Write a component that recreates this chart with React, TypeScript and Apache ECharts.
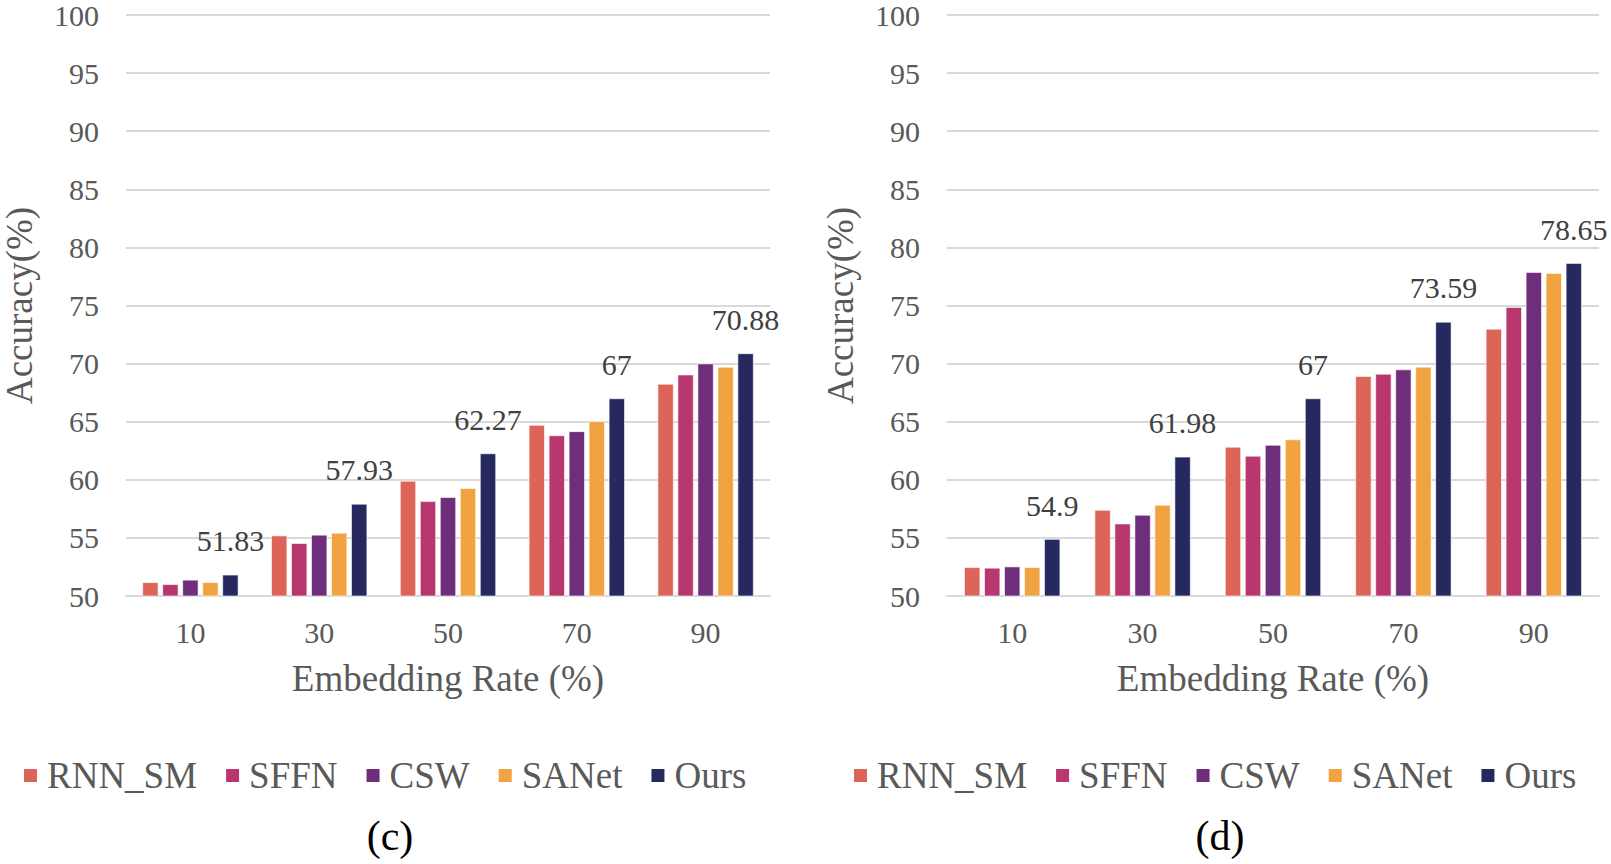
import React, { useEffect, useRef } from "react";
import * as echarts from "echarts";

const categories = ["10", "30", "50", "70", "90"];
const seriesNames = ["RNN_SM", "SFFN", "CSW", "SANet", "Ours"];
const colors = ["#DC6458", "#B8376E", "#6E2E7B", "#F0A340", "#252960"];

// panel (c)
const rnnC = [51.18, 55.2, 59.91, 64.71, 68.25];
const sffnC = [51.01, 54.54, 58.15, 63.82, 69.05];
const cswC = [51.39, 55.26, 58.5, 64.17, 70.0];
const sanetC = [51.18, 55.43, 59.28, 65.03, 69.71];
const oursC = [51.83, 57.93, 62.27, 67, 70.88];

// panel (d)
const rnnD = [52.47, 57.41, 62.83, 68.92, 72.99];
const sffnD = [52.42, 56.23, 62.06, 69.12, 74.86];
const cswD = [52.53, 56.98, 63.0, 69.49, 77.87];
const sanetD = [52.47, 57.84, 63.47, 69.72, 77.78];
const oursD = [54.9, 61.98, 67, 73.59, 78.65];

const FONT = "'Liberation Serif', 'Times New Roman', serif";
const GREY = "#595959";

export default function App() {
  const ref = useRef<HTMLDivElement>(null);
  useEffect(() => {
    if (!ref.current) return;
    const chart = echarts.init(ref.current, null, { renderer: "svg" });

    const panels = [
      { data: [rnnC, sffnC, cswC, sanetC, oursC], left: 118 },
      { data: [rnnD, sffnD, cswD, sanetD, oursD], left: 947 },
    ];

    const grids = panels.map((p) => ({ left: p.left, top: 15, width: 652, height: 581 }));
    const xAxes = panels.map((p, i) => ({
      type: "category",
      gridIndex: i,
      data: categories,
      name: "Embedding Rate (%)",
      nameLocation: "middle",
      nameGap: 64,
      nameTextStyle: { fontFamily: FONT, fontSize: 37, color: GREY },
      axisLine: { show: true, lineStyle: { color: "#d9d9d9", width: 2 } },
      axisTick: { show: false },
      axisLabel: { fontFamily: FONT, fontSize: 30, color: GREY, margin: 21 },
    }));
    const yAxes = panels.map((p, i) => ({
      type: "value",
      gridIndex: i,
      min: 50,
      max: 100,
      interval: 5,
      name: "Accuracy(%)",
      nameLocation: "middle",
      nameGap: 88,
      nameTextStyle: { fontFamily: FONT, fontSize: 37, color: GREY },
      axisLine: { show: false },
      axisTick: { show: false },
      axisLabel: { fontFamily: FONT, fontSize: 30, color: GREY, margin: 27 },
      splitLine: { show: true, lineStyle: { color: "#d9d9d9", width: 2 } },
    }));

    const series: any[] = [];
    panels.forEach((p, pi) => {
      p.data.forEach((arr, si) => {
        series.push({
          type: "bar",
          name: seriesNames[si],
          xAxisIndex: pi,
          yAxisIndex: pi,
          data: arr,
          barWidth: 16,
          barGap: "25%",
          itemStyle: { color: colors[si], borderColor: "#ffffff", borderWidth: 0.6 },
          label:
            si === 4
              ? {
                  show: true,
                  position: "top",
                  distance: 19,
                  formatter: "{c}",
                  fontFamily: FONT,
                  fontSize: 30,
                  color: "#404040",
                }
              : { show: false },
        });
      });
    });

    const legendBase = {
      data: seriesNames,
      top: 752,
      itemWidth: 15,
      itemHeight: 15,
      itemGap: 27,
      icon: "rect",
      textStyle: { fontFamily: FONT, fontSize: 37, color: GREY, padding: [0, 0, 0, 4] },
    };

    chart.setOption({
      animation: false,
      backgroundColor: "#ffffff",
      grid: grids,
      xAxis: xAxes,
      yAxis: yAxes,
      series,
      legend: [
        { ...legendBase, left: 17 },
        { ...legendBase, left: 847 },
      ],
      graphic: [
        {
          type: "text",
          x: 390,
          y: 836,
          style: {
            text: "(c)",
            fontFamily: FONT,
            fontSize: 42,
            fill: "#000000",
            align: "center",
            verticalAlign: "middle",
          },
        },
        {
          type: "text",
          x: 1220,
          y: 836,
          style: {
            text: "(d)",
            fontFamily: FONT,
            fontSize: 42,
            fill: "#000000",
            align: "center",
            verticalAlign: "middle",
          },
        },
      ],
    });

    return () => chart.dispose();
  }, []);

  return (
    <div
      ref={ref}
      style={{ position: "fixed", left: 0, top: 0, width: 1611, height: 864, background: "#fff" }}
    />
  );
}
